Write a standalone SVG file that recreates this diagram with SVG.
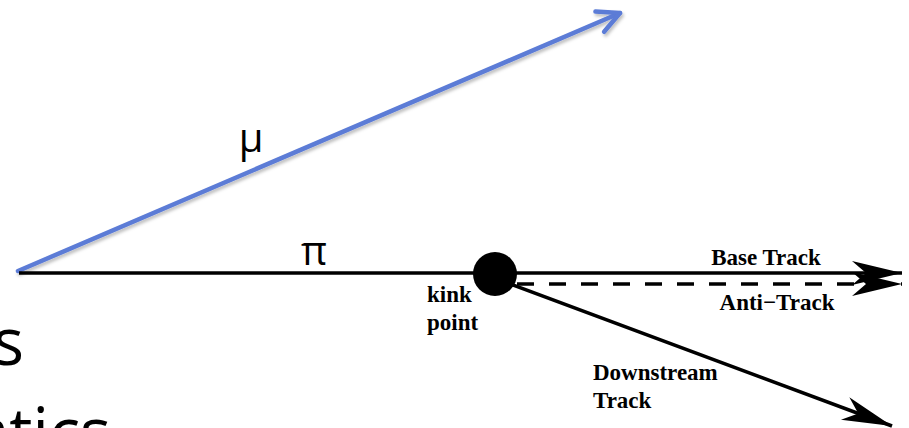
<svg xmlns="http://www.w3.org/2000/svg" width="909" height="428" viewBox="0 0 909 428">
<style>
.trk{stroke:#000;stroke-width:3.6;fill:none}
.lbl{font-family:"Liberation Serif",serif;font-weight:bold;font-size:23px;fill:#000}
.greek{font-family:"Open Sans","DejaVu Sans",sans-serif;font-size:40px;fill:#000}
.slide{font-family:"Open Sans","DejaVu Sans",sans-serif;font-size:65px;fill:#000}
</style>
<defs>
<marker id="head" markerUnits="userSpaceOnUse" markerWidth="60" markerHeight="30" viewBox="-50 -15 60 30" refX="0" refY="0" orient="auto">
<path d="M0,0 L-50,-12 L-36,0 L-50,12 Z" fill="#000"/>
</marker>
<marker id="chev" markerUnits="userSpaceOnUse" markerWidth="40" markerHeight="40" viewBox="-30 -20 40 40" refX="0" refY="0" orient="auto">
<path d="M-22,-11 L0,0 L-22,11" fill="none" stroke="#5b7bd6" stroke-width="4.5" stroke-linecap="round" stroke-linejoin="round"/>
</marker>
<filter id="sh" x="-10%" y="-10%" width="120%" height="130%">
<feDropShadow dx="1.5" dy="2.5" stdDeviation="1.5" flood-color="#000" flood-opacity="0.25"/>
</filter>
</defs>
<g id="slide-text">
<text class="slide" x="24" y="365" text-anchor="end">s</text>
<text class="slide" x="111" y="455" text-anchor="end">atics</text>
</g>
<g id="connectors">
<line id="mu" x1="18" y1="271" x2="620" y2="13" stroke="#5b7bd6" stroke-width="4.5" stroke-linecap="round" marker-end="url(#chev)" filter="url(#sh)"/>
<line id="pi" class="trk" x1="19" y1="273" x2="495" y2="273"/>
<line id="base" class="trk" x1="495" y1="273" x2="902" y2="273" marker-end="url(#head)"/>
<line id="anti" class="trk" x1="517" y1="284" x2="902" y2="284" stroke-dasharray="17 15" marker-end="url(#head)"/>
<line id="down" class="trk" x1="505" y1="282" x2="892" y2="426" marker-end="url(#head)"/>
</g>
<g id="kink">
<circle cx="495" cy="274" r="22" fill="#000"/>
<text class="lbl" x="427" y="302">kink</text>
<text class="lbl" x="427" y="330">point</text>
</g>
<g id="labels">
<text class="greek" x="251" y="152" text-anchor="middle">μ</text>
<text class="greek" x="314" y="265" text-anchor="middle">π</text>
<text class="lbl" x="766" y="265" text-anchor="middle">Base Track</text>
<text class="lbl" x="777" y="310" text-anchor="middle">Anti−Track</text>
<text class="lbl" x="593" y="380">Downstream</text>
<text class="lbl" x="593" y="408">Track</text>
</g>
</svg>
